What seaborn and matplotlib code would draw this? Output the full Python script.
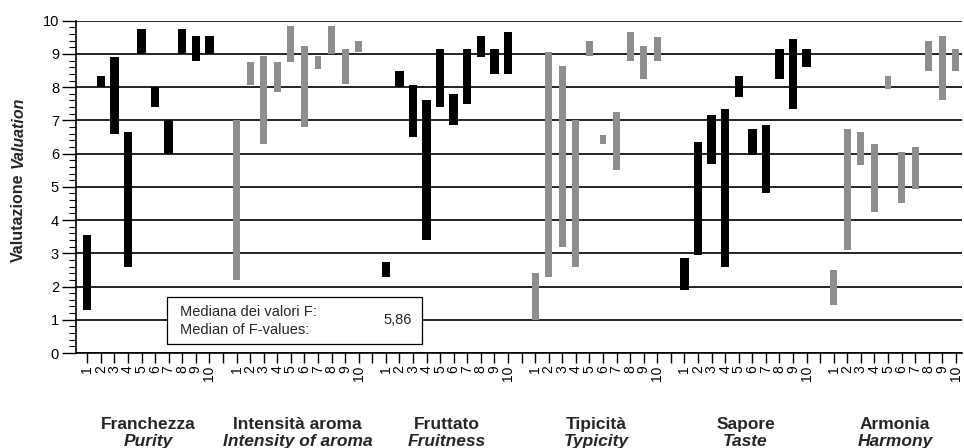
"""Wine panel valuation ranges per judge and attribute."""
import matplotlib
matplotlib.use("Agg")
import matplotlib.pyplot as plt
from matplotlib.patches import Rectangle
from matplotlib.ticker import MultipleLocator
import pandas as pd
import seaborn as sns

# attribute names (Italian / English)
groups_it = ["Franchezza", "Intensità aroma", "Fruttato", "Tipicità", "Sapore", "Armonia"]
groups_en = ["Purity", "Intensity of aroma", "Fruitness", "Typicity", "Taste", "Harmony"]
judges = list(range(1, 11))

# min / max valuation given by each judge
franchezza_low = [1.3, 8.0, 6.6, 2.6, 9.0, 7.4, 6.0, 9.0, 8.8, 9.0]
franchezza_high = [3.55, 8.35, 8.9, 6.65, 9.75, 8.0, 7.0, 9.75, 9.55, 9.55]
intensita_low = [2.2, 8.05, 6.3, 7.85, 8.75, 6.8, 8.55, 9.0, 8.1, 9.05]
intensita_high = [7.0, 8.75, 8.95, 8.75, 9.85, 9.25, 8.95, 9.85, 9.15, 9.4]
fruttato_low = [2.3, 8.0, 6.5, 3.4, 7.4, 6.85, 7.5, 8.9, 8.4, 8.4]
fruttato_high = [2.75, 8.5, 8.05, 7.6, 9.15, 7.8, 9.15, 9.55, 9.15, 9.65]
tipicita_low = [1.0, 2.3, 3.2, 2.6, 8.95, 6.3, 5.5, 8.8, 8.25, 8.8]
tipicita_high = [2.4, 9.05, 8.65, 7.0, 9.4, 6.55, 7.25, 9.65, 9.25, 9.5]
sapore_low = [1.9, 2.95, 5.7, 2.6, 7.7, 5.95, 4.8, 8.25, 7.35, 8.6]
sapore_high = [2.85, 6.35, 7.15, 7.35, 8.35, 6.75, 6.85, 9.15, 9.45, 9.15]
armonia_low = [1.45, 3.1, 5.65, 4.25, 7.95, 4.5, 4.95, 8.5, 7.6, 8.5]
armonia_high = [2.5, 6.75, 6.65, 6.3, 8.35, 6.05, 6.2, 9.4, 9.55, 9.15]

median_f = "5,86"

lows = [franchezza_low, intensita_low, fruttato_low, tipicita_low, sapore_low, armonia_low]
highs = [franchezza_high, intensita_high, fruttato_high, tipicita_high, sapore_high, armonia_high]

# one slot of space between attributes
SLOTS = 11
rows = []
for gi, (lo, hi) in enumerate(zip(lows, highs)):
    for j, l, h in zip(judges, lo, hi):
        rows.append({"group": gi, "judge": j, "pos": gi * SLOTS + j - 1, "low": l, "high": h})
df = pd.DataFrame(rows)

sns.set_style("ticks")
plt.rcParams["font.family"] = ["Liberation Sans", "DejaVu Sans"]

W, H = 964, 448
fig = plt.figure(figsize=(W / 100, H / 100), dpi=100)
ax = fig.add_axes([75.7 / W, 1 - 353 / H, (962 - 75.7) / W, (353 - 20.7) / H])

colors = ["black", "#8e8e8e"]
widths = [0.62, 0.5]
for gi, sub in df.groupby("group"):
    ax.bar(sub["pos"], sub["high"] - sub["low"], bottom=sub["low"],
           width=widths[gi % 2], color=colors[gi % 2], linewidth=0, zorder=3)

# axes, ticks, grid
ax.set_xlim(-0.85, 64.45)
ax.set_ylim(0, 10)
ax.set_yticks(range(0, 11))
ax.yaxis.set_minor_locator(MultipleLocator(0.2))
ax.yaxis.grid(True, color="black", linewidth=1.2)
ax.set_axisbelow(True)
ax.tick_params(axis="y", which="major", length=10, width=1, labelsize=10.5, pad=2, colors="black")
ax.tick_params(axis="y", which="minor", length=5, width=0.8, colors="black")

xt = list(range(6 * SLOTS - 1))
xl = ["" for _ in xt]
for p, j in zip(df["pos"], df["judge"]):
    xl[p] = str(j)
ax.set_xticks(xt)
ax.set_xticklabels(xl, rotation=90, fontsize=10)
ax.tick_params(axis="x", length=7, width=1, pad=2, colors="black")

for side in ["top", "right"]:
    ax.spines[side].set_visible(False)
for side in ["left", "bottom"]:
    ax.spines[side].set_linewidth(1.2)
    ax.spines[side].set_color("black")

# attribute names under the groups
trans = ax.get_xaxis_transform()
for gi, (it, en) in enumerate(zip(groups_it, groups_en)):
    cx = gi * SLOTS + 4.5
    ax.text(cx, -0.215, it, transform=trans, ha="center", va="center",
            fontsize=12.5, fontweight="bold")
    ax.text(cx, -0.265, en, transform=trans, ha="center", va="center",
            fontsize=12.5, fontweight="bold", style="italic")

# median box
ax.add_patch(Rectangle((5.87, 0.28), 24.7 - 5.87, 1.70 - 0.28, facecolor="white",
                       edgecolor="black", linewidth=0.9, zorder=4))
ax.text(6.8, 1.22, "Mediana dei valori F:", ha="left", va="center", fontsize=10.5, zorder=5)
ax.text(6.8, 0.68, "Median of F-values:", ha="left", va="center", fontsize=10.5, zorder=5)
ax.text(22.9, 0.99, median_f, ha="center", va="center", fontsize=10.5, zorder=5)

# y label in two styles
t1 = fig.text(18 / W, (H - 262) / H, "Valutazione", rotation=90, ha="center", va="bottom",
              fontsize=11.5, fontweight="bold")
fig.canvas.draw()
bb = t1.get_window_extent()
fig.text(18 / W, (bb.y1 + 5) / H, "Valuation", rotation=90, ha="center", va="bottom",
         fontsize=11.5, fontweight="bold", style="italic")

fig.savefig("out.png", dpi=100)
